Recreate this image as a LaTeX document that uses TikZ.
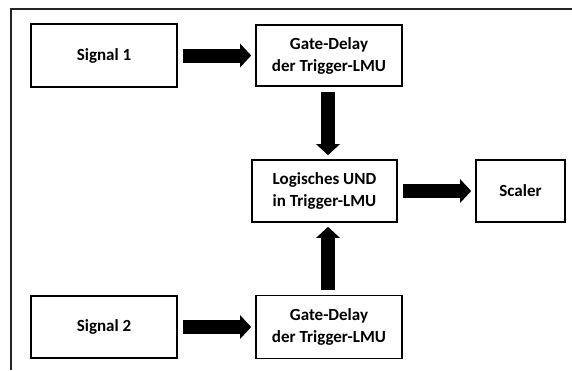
\documentclass[tikz,border=0pt]{standalone}
\usepackage{fontspec}
\setmainfont{Carlito}
\usetikzlibrary{arrows.meta}
\begin{document}
\begin{tikzpicture}[x=1pt,y=-1pt,
  blockbox/.style={draw=black, line width=1.6pt, fill=white, align=center,
    inner sep=0pt, font=\bfseries\fontsize{17}{22}\selectfont},
  fatarrow/.style={line width=14pt, -{Triangle[length=11pt,width=23pt]},
    shorten <=5pt, shorten >=4pt},
  framelines/.style={line width=2pt, draw=black!85}]
  \useasboundingbox (0,0) rectangle (572,370);

  % open frame: top and left edges only
  \draw[framelines] (572,9) -- (11,9) -- (11,370);

  % blocks
  \node[blockbox, minimum width=146pt, minimum height=63pt] (sig1) at (104,55.5) {Signal 1};
  \node[blockbox, minimum width=146pt, minimum height=61pt] (gd1) at (329,55.5) {Gate-Delay\\der Trigger-LMU};
  \node[blockbox, minimum width=145pt, minimum height=62pt] (und) at (324.5,191) {Logisches UND\\in Trigger-LMU};
  \node[blockbox, minimum width=89pt, minimum height=62pt] (scal) at (520.5,191) {Scaler};
  \node[blockbox, minimum width=146pt, minimum height=62pt] (sig2) at (104,327) {Signal 2};
  \node[blockbox, minimum width=146pt, minimum height=63pt] (gd2) at (329,327) {Gate-Delay\\der Trigger-LMU};

  % signal flow
  \draw[fatarrow] (sig1.east) -- (sig1.east -| gd1.west);
  \draw[fatarrow] (sig2.east) -- (sig2.east -| gd2.west);
  \draw[fatarrow] ([xshift=-1pt]gd1.south) -- ([xshift=-1pt]gd1.south |- und.north);
  \draw[fatarrow] ([xshift=-1pt]gd2.north) -- ([xshift=-1pt]gd2.north |- und.south);
  \draw[fatarrow] (und.east) -- (und.east -| scal.west);
\end{tikzpicture}
\end{document}
